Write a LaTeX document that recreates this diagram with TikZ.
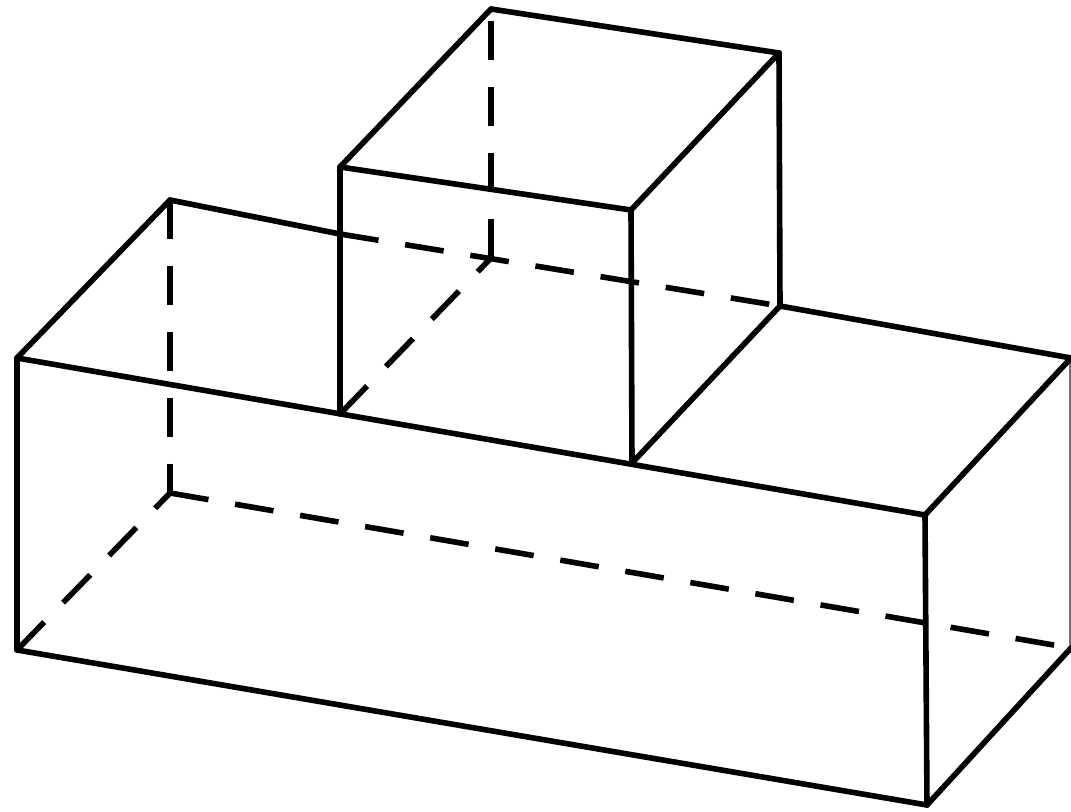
\documentclass[tikz,border=0pt]{standalone}
\usepackage{xcolor}

\tikzset{
edge/.style={line width=4.2pt, line cap=round, line join=round},
hidden/.style={line width=4.2pt, dash pattern=on 29.25pt off 20.25pt},
rim/.style={line width=1.5pt, black!55}
}

\begin{document}
\begin{tikzpicture}[x=0.75pt,y=-0.75pt]
\useasboundingbox (0,0) rectangle (1071,812);

\coordinate (a) at (17,358);
\coordinate (b) at (925,515);
\coordinate (c) at (17,650);
\coordinate (d) at (927,805);
\coordinate (e) at (170,200);
\coordinate (f) at (1071,358);
\coordinate (g) at (170,493);
\coordinate (h) at (1071,648);
\coordinate (rimtop) at (1070,358);
\coordinate (rimbot) at (1070,648);

\coordinate (i) at (340,414);
\coordinate (j) at (632,463);
\coordinate (k) at (780,306);
\coordinate (l) at (491,258);
\coordinate (m) at (340,167);
\coordinate (n) at (631,210);
\coordinate (o) at (779,53);
\coordinate (p) at (491,9);
\coordinate (q) at (340,234);

\draw[rim] (rimtop) -- (rimbot) ;

\draw[edge] (e) -- (q) ;
\draw[edge] (k) -- (f) ;
\draw[edge] (a) -- (e) ;
\draw[edge] (a) -- (b) ;
\draw[edge] (a) -- (c) ;
\draw[edge] (c) -- (d) ;
\draw[edge] (b) -- (d) ;
\draw[edge] (b) -- (f) ;
\draw[edge] (d) -- (h) ;

\draw[edge] (m) -- (i) ;
\draw[edge] (n) -- (j) ;
\draw[edge] (j) -- (k) ;
\draw[edge] (o) -- (k) ;
\draw[edge] (m) -- (n) ;
\draw[edge] (n) -- (o) ;
\draw[edge] (o) -- (p) ;
\draw[edge] (p) -- (m) ;

\draw[hidden] (q) -- (k) ;
\draw[hidden] (l) -- (p) ;
\draw[hidden] (i) -- (l) ;
\draw[hidden] (e) -- (g) ;
\draw[hidden] (c) -- (g) ;
\draw[hidden] (g) -- (h) ;

\end{tikzpicture}
\end{document}
